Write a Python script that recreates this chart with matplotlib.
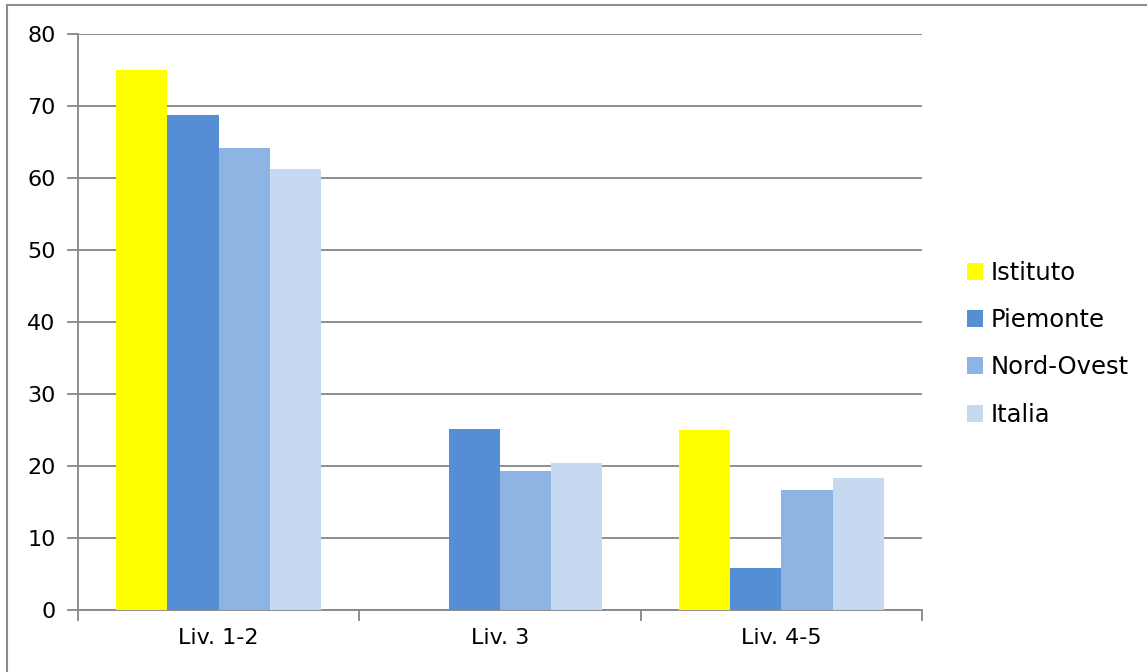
import numpy as np
import matplotlib.pyplot as plt
from matplotlib.patches import Rectangle

categories = ["Liv. 1-2", "Liv. 3", "Liv. 4-5"]
series = ["Istituto", "Piemonte", "Nord-Ovest", "Italia"]
istituto = [75, 0, 25]
piemonte = [68.8, 25.2, 5.9]
nord_ovest = [64.2, 19.3, 16.7]
italia = [61.3, 20.4, 18.3]
colors = ["#FFFF00", "#558ED5", "#8EB4E3", "#C6D9F1"]

plt.rcParams['font.family'] = ['DejaVu Sans']
fig = plt.figure(figsize=(11.47, 6.72), dpi=100)
ax = fig.add_axes([78/1147, 1 - 610/672, (922-78)/1147, (610-34)/672])

x = np.arange(len(categories))
w = 0.182
data = [istituto, piemonte, nord_ovest, italia]
for i, (vals, c, name) in enumerate(zip(data, colors, series)):
    ax.bar(x + (i - 1.5)*w, vals, w, color=c, label=name, zorder=3)

ax.set_xlim(-0.5, 2.5)
ax.set_ylim(0, 80)
ax.set_yticks(np.arange(0, 81, 10))
ax.yaxis.grid(True, color="#868686", linewidth=1.3, zorder=0)
ax.set_xticks(x)
ax.set_xticklabels(categories, fontsize=16)
ax.set_xticks([-0.5, 0.5, 1.5, 2.5], minor=True)
ax.tick_params(axis="x", which="major", length=0, pad=13)
ax.tick_params(axis="x", which="minor", length=8, color="#868686", width=1.3)
ax.tick_params(axis="y", length=8, color="#868686", width=1.3, labelsize=16, pad=8)
for s in ["top", "right"]:
    ax.spines[s].set_visible(False)
for s in ["left", "bottom"]:
    ax.spines[s].set_color("#868686")
    ax.spines[s].set_linewidth(1.3)

ax.legend(loc="center left", bbox_to_anchor=(1.042, 0.462), frameon=False,
          fontsize=17.5, handlelength=0.65, handleheight=0.7, handletextpad=0.3,
          labelspacing=0.95, borderaxespad=0)

fig.patches.append(Rectangle((7/1147, -0.2), 1.2, 1.2 - 5/672, transform=fig.transFigure,
                             fill=False, edgecolor="#8c8c8c", linewidth=1.5))

fig.savefig("out.png", dpi=100)
